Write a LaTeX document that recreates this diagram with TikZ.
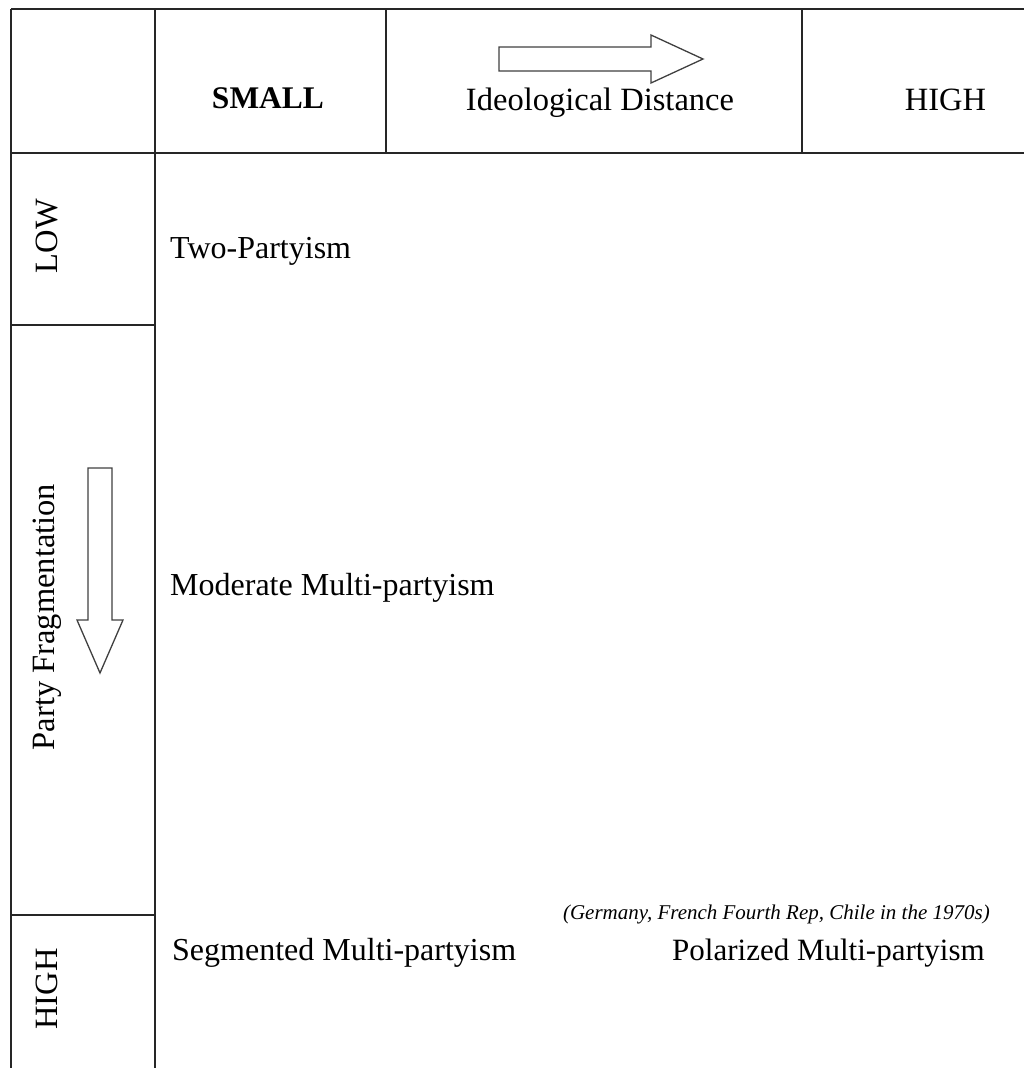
\documentclass[tikz,border=0pt]{standalone}
\usepackage{fontspec}
\setmainfont{Liberation Serif}
\begin{document}
\begin{tikzpicture}[x=1pt,y=-1pt,
  grid/.style={line width=1.8pt,draw=black!85},
  fat/.style={line width=1.3pt,draw=black!75,fill=white,line join=miter},
  lbl/.style={inner sep=0pt,font=\fontsize{32.5}{38}\selectfont},
  body/.style={inner sep=0pt,anchor=base west,font=\fontsize{32}{38}\selectfont},
  side/.style={inner sep=0pt,rotate=90,font=\fontsize{32.5}{38}\selectfont}]
\useasboundingbox (0,0) rectangle (1024,1068);
% grid
\draw[grid] (11,9) -- (1024,9);
\draw[grid] (11,153) -- (1024,153);
\draw[grid] (11,9) -- (11,1068);
\draw[grid] (155,9) -- (155,1068);
\draw[grid] (386,9) -- (386,153);
\draw[grid] (802,9) -- (802,153);
\draw[grid] (11,325) -- (155,325);
\draw[grid] (11,915) -- (155,915);
% header
\node[lbl,anchor=base,font=\fontsize{31.5}{38}\selectfont\bfseries] (small) at (268,108) {SMALL};
\node[lbl,anchor=base] (ideo) at (600,110) {Ideological Distance};
\node[lbl,anchor=base] (hightop) at (945.5,110) {HIGH};
\draw[fat] (499,47) -- (651,47) -- (651,35) -- (703,59) -- (651,83) -- (651,71) -- (499,71) -- cycle;
% side
\node[side] (low) at (47,236) {LOW};
\node[side] (frag) at (47,617) {Party Fragmentation};
\node[side] (highside) at (47,989) {HIGH};
\draw[fat] (88,468) -- (112,468) -- (112,620) -- (123,620) -- (100,673) -- (77,620) -- (88,620) -- cycle;
% body
\node[body] (two) at (170,258) {Two-Partyism};
\node[body] (mod) at (170,595) {Moderate Multi-partyism};
\node[body] (seg) at (172,960) {Segmented Multi-partyism};
\node[body,font=\fontsize{31}{38}\selectfont] (pol) at (672,960) {Polarized Multi-partyism};
\node[inner sep=0pt,anchor=base east,font=\fontsize{21}{25}\selectfont\itshape] (ex) at (990,919) {(Germany, French Fourth Rep, Chile in the 1970s)};
\end{tikzpicture}
\end{document}
